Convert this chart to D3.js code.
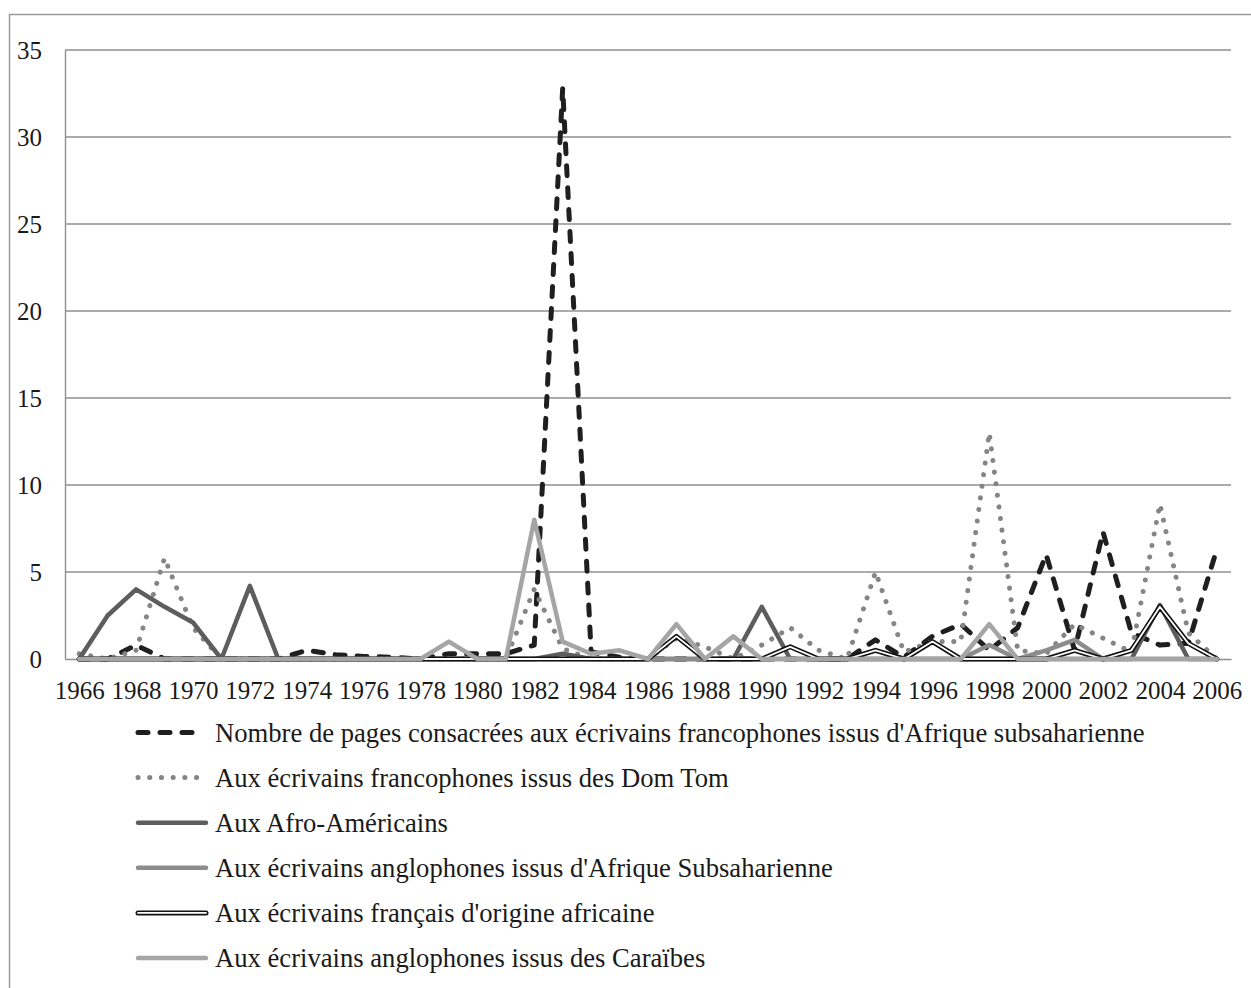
<!DOCTYPE html>
<html>
<head>
<meta charset="utf-8">
<script src="https://cdn.jsdelivr.net/npm/d3@7/dist/d3.min.js"></script>
<style>
  html, body { margin: 0; padding: 0; background: #fff; }
  svg { display: block; }
</style>
</head>
<body>
<svg id="chart" width="1251" height="988"></svg>
<script>
// ---- DATA ----
const years = d3.range(1966, 2007);
const yTicks = [0, 5, 10, 15, 20, 25, 30, 35];
const xTickLabels = d3.range(1966, 2007, 2);

const seriesNames = [
  "Nombre de pages consacrées aux écrivains francophones issus d'Afrique subsaharienne",
  "Aux écrivains francophones issus des Dom Tom",
  "Aux Afro-Américains",
  "Aux écrivains anglophones issus d'Afrique Subsaharienne",
  "Aux écrivains français d'origine africaine",
  "Aux écrivains anglophones issus des Caraïbes"
];

//                1966 67   68   69   70   71   72   73   74   75    76    77   78   79   80   81   82   83    84   85   86   87   88   89   90   91   92   93   94   95   96   97   98   99   2000 01   02   03   04   05   06
const afriqueFr = [0,  0,   0.8, 0,   0,   0,   0,   0,   0.5, 0.25, 0.15, 0.1, 0,   0.3, 0.3, 0.3, 0.8, 32.8, 0.4, 0.1, 0,   0,   0,   0,   0,   0,   0,   0,   1.1, 0.1, 1.3, 2.0, 0.5, 1.8, 6.0, 0.5, 7.3, 1.5, 0.8, 0.9, 6.3];
const domTom    = [0.3,0,   0.5, 5.8, 1.8, 0,   0,   0,   0,   0,    0,    0,   0,   0,   0,   0,   4.0, 0.6,  0,   0,   0,   1.2, 0.7, 0,   0.8, 1.8, 0.5, 0,   5.0, 0.4, 1.0, 1.0, 13.0,0.5, 0.3, 2.0, 1.2, 0.4, 8.9, 1.5, 0];
const afroAm    = [0,  2.5, 4.0, 3.0, 2.1, 0,   4.2, 0,   0,   0,    0,    0,   0,   0,   0,   0,   0,   0.3,  0,   0,   0,   0,   0,   0,   3.0, 0,   0,   0,   0,   0,   0,   0,   0,   0,   0,   0,   0,   0,   3.1, 0,   0];
const angloAfr  = [0,  0,   0,   0,   0,   0,   0,   0,   0,   0,    0,    0,   0,   0,   0,   0,   0,   0,    0,   0,   0,   0,   0,   0,   0,   0,   0,   0,   0,   0,   0,   0,   0.8, 0,   0.5, 1.1, 0,   0,   0,   0,   0];
const francais  = [0,  0,   0,   0,   0,   0,   0,   0,   0,   0,    0,    0,   0,   0,   0,   0,   0,   0,    0,   0,   0,   1.3, 0,   0,   0,   0.7, 0,   0,   0.5, 0,   1.0, 0,   0,   0,   0,   0.5, 0,   0.5, 3.0, 0.9, 0];
const caraibes  = [0,  0,   0,   0,   0,   0,   0,   0,   0,   0,    0,    0,   0,   1.0, 0,   0,   8.0, 1.0,  0.3, 0.5, 0,   2.0, 0,   1.3, 0,   0,   0,   0,   0,   0,   0,   0,   2.0, 0,   0,   0,   0,   0,   0,   0,   0];

const seriesValues = [afriqueFr, domTom, afroAm, angloAfr, francais, caraibes];

// ---- STYLES ----
const FONT = "Liberation Serif";
const FS = 25;
const styles = [
  { stroke: "#1f1f1f", width: 5,   dash: "10,12", cap: "round" },
  { stroke: "#858585", width: 5,   dash: "0.1,11.6", cap: "round" },
  { stroke: "#5d5d5d", width: 4.5, dash: null, cap: "round" },
  { stroke: "#8c8c8c", width: 4.5, dash: null, cap: "round" },
  { stroke: "#111111", width: 5,   dash: null, cap: "round", double: true },
  { stroke: "#a5a5a5", width: 4.5, dash: null, cap: "round" }
];

const svg = d3.select("#chart");
const plot = { left: 65, right: 1231, top: 50, bottom: 659 };

// outer frame
svg.append("rect")
  .attr("x", 9.5).attr("y", 14.5)
  .attr("width", 1400).attr("height", 1100)
  .attr("fill", "none").attr("stroke", "#9a9a9a").attr("stroke-width", 1.5);

const x = d3.scalePoint().domain(years).range([plot.left, plot.right]).padding(0.5);
const y = d3.scaleLinear().domain([0, 35]).range([plot.bottom, plot.top]);

// gridlines
svg.append("g").selectAll("line").data(yTicks.filter(t => t > 0)).join("line")
  .attr("x1", plot.left).attr("x2", plot.right)
  .attr("y1", d => y(d)).attr("y2", d => y(d))
  .attr("stroke", "#8f8f8f").attr("stroke-width", 1.4);

// y axis
const yAxis = d3.axisLeft(y).tickValues(yTicks).tickSize(0).tickPadding(23);
const gy = svg.append("g").attr("transform", `translate(${plot.left},0)`).call(yAxis);
gy.attr("font-family", null).attr("font-size", null);
gy.select(".domain").attr("stroke", "#8f8f8f").attr("stroke-width", 1.4);
gy.selectAll("text").attr("fill", "#1a1a1a").attr("font-family", FONT).attr("font-size", FS);

// x axis
const xAxis = d3.axisBottom(x).tickValues(xTickLabels).tickSize(0).tickPadding(22).tickFormat(d => d);
const gx = svg.append("g").attr("transform", `translate(0,${plot.bottom})`).call(xAxis);
gx.attr("font-family", null).attr("font-size", null);
gx.select(".domain").attr("stroke", "#8f8f8f").attr("stroke-width", 1.4);
gx.selectAll("text").attr("fill", "#1a1a1a").attr("font-family", FONT).attr("font-size", FS);

// lines
const line = d3.line().x((d, i) => x(years[i])).y(d => y(d));

seriesValues.forEach((vals, si) => {
  const st = styles[si];
  const p = svg.append("path").datum(vals)
    .attr("d", line)
    .attr("fill", "none")
    .attr("stroke", st.stroke)
    .attr("stroke-width", st.width)
    .attr("stroke-linejoin", "round")
    .attr("stroke-linecap", st.cap);
  if (st.dash) p.attr("stroke-dasharray", st.dash);
  if (st.double) {
    svg.append("path").datum(vals)
      .attr("d", line)
      .attr("fill", "none")
      .attr("stroke", "#ffffff")
      .attr("stroke-width", 1.8)
      .attr("stroke-linejoin", "round")
      .attr("stroke-linecap", "round");
  }
});

// legend
const legend = svg.append("g");
const legY0 = 732.5, legStep = 45.1;
const legTexts = [];
seriesNames.forEach((name, i) => {
  const st = styles[i];
  const yy = legY0 + i * legStep;
  const x1 = 138, x2 = (st.dash ? 200 : 206);
  const l = legend.append("line")
    .attr("x1", x1).attr("x2", x2).attr("y1", yy).attr("y2", yy)
    .attr("stroke", st.stroke).attr("stroke-width", st.width)
    .attr("stroke-linecap", st.cap);
  if (st.dash) l.attr("stroke-dasharray", st.dash);
  if (st.double) {
    legend.append("line")
      .attr("x1", x1).attr("x2", x2).attr("y1", yy).attr("y2", yy)
      .attr("stroke", "#fff").attr("stroke-width", 1.8).attr("stroke-linecap", "round");
  }
  legTexts.push(legend.append("text")
    .attr("x", 215).attr("y", yy + 9)
    .attr("fill", "#1a1a1a")
    .attr("font-family", FONT).attr("font-size", FS)
    .text(name));
});
// fit legend font size so the longest entry spans as in the reference
const len0 = legTexts[0].node().getComputedTextLength();
if (len0 > 0) {
  const fs = Math.max(22, Math.min(28, FS * 930 / len0));
  legTexts.forEach(t => t.attr("font-size", fs));
}
</script>
</body>
</html>
